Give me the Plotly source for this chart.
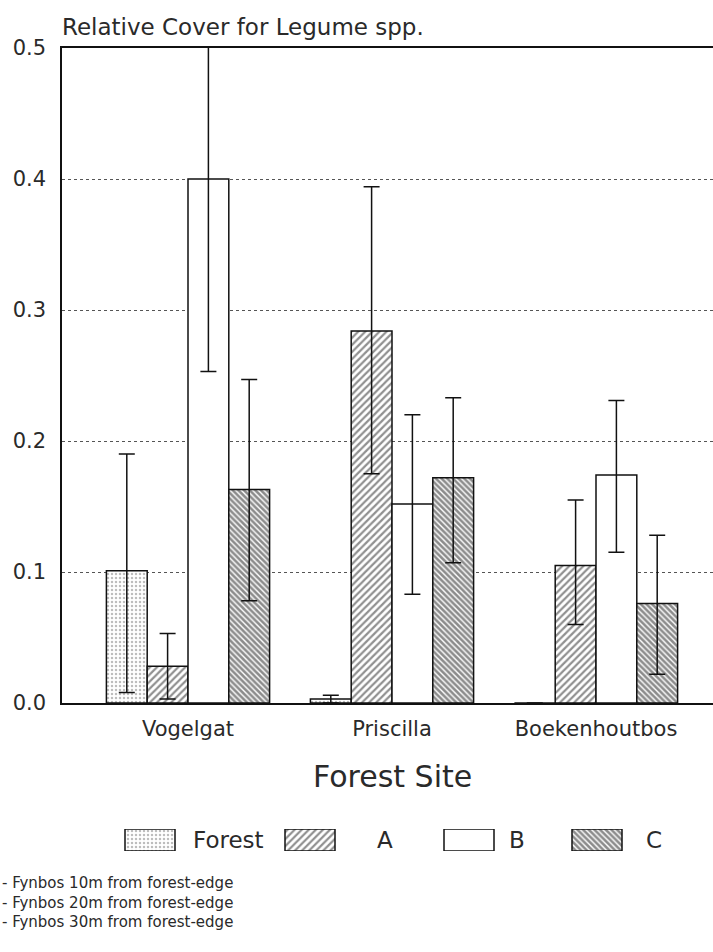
import plotly.graph_objects as go

# Relative cover of legume species at three forest sites
sites = ["Vogelgat", "Priscilla", "Boekenhoutbos"]
groups = ["Forest", "A", "B", "C"]

cover_forest = [0.101, 0.003, 0.0]
cover_a = [0.028, 0.284, 0.105]
cover_b = [0.400, 0.152, 0.174]
cover_c = [0.163, 0.172, 0.076]

err_plus_forest = [0.089, 0.003, 0.0]
err_minus_forest = [0.093, 0.003, 0.0]
err_plus_a = [0.025, 0.110, 0.050]
err_minus_a = [0.025, 0.109, 0.045]
err_plus_b = [0.148, 0.068, 0.057]
err_minus_b = [0.147, 0.069, 0.059]
err_plus_c = [0.084, 0.061, 0.052]
err_minus_c = [0.085, 0.065, 0.054]

footnotes = [
    "- Fynbos 10m from forest-edge",
    "- Fynbos 20m from forest-edge",
    "- Fynbos 30m from forest-edge",
]

FONT = "DejaVu Sans"
INK = "#2a2a2a"

styles = {
    "Forest": dict(shape=".", size=4, solidity=0.3, fgcolor="#7a7a7a"),
    "A": dict(shape="/", size=5, solidity=0.45, fgcolor="#222222"),
    "B": dict(shape="", size=5, solidity=0.3, fgcolor="#111111"),
    "C": dict(shape="\\", size=4, solidity=0.65, fgcolor="#1a1a1a"),
}

series = [
    ("Forest", cover_forest, err_plus_forest, err_minus_forest),
    ("A", cover_a, err_plus_a, err_minus_a),
    ("B", cover_b, err_plus_b, err_minus_b),
    ("C", cover_c, err_plus_c, err_minus_c),
]

fig = go.Figure()
for name, vals, ep, em in series:
    st = styles[name]
    fig.add_trace(go.Bar(
        x=sites, y=vals, name=name, showlegend=False,
        marker=dict(
            color="white",
            line=dict(color="#111111", width=1.5),
            pattern=dict(shape=st["shape"], size=st["size"],
                         solidity=st["solidity"], fgcolor=st["fgcolor"],
                         bgcolor="white", fillmode="overlay"),
        ),
        error_y=dict(type="data", symmetric=False, array=ep, arrayminus=em,
                     color="#111111", thickness=1.5, width=8),
        xaxis="x", yaxis="y",
    ))

# Key swatches drawn on a small helper axis below the chart
key_pos = [150, 310, 469, 597]
key_label_pos = [228, 385, 517, 654]
fig.add_trace(go.Bar(
    x=key_pos, y=[1] * len(groups), width=[50] * len(groups),
    showlegend=False, hoverinfo="skip",
    marker=dict(
        color="white",
        line=dict(color="#111111", width=1.5),
        pattern=dict(shape=[styles[g]["shape"] for g in groups],
                     size=[styles[g]["size"] for g in groups],
                     solidity=[styles[g]["solidity"] for g in groups],
                     fgcolor=[styles[g]["fgcolor"] for g in groups],
                     bgcolor="white", fillmode="overlay"),
    ),
    xaxis="x2", yaxis="y2",
))

W, H = 713, 952
ml, mt, mb = 62, 48, 92
plot_h = H - mt - mb
plot_w = W - ml


def py(pix):
    return (H - mb - pix) / plot_h


def px(pix):
    return (pix - ml) / plot_w


annotations = [
    dict(text="Relative Cover for Legume spp.", x=px(60), y=py(27),
         xref="paper", yref="paper", xanchor="left", yanchor="middle",
         showarrow=False, font=dict(family=FONT, size=23, color=INK)),
    dict(text="Forest Site", x=px(393), y=py(776), xref="paper", yref="paper",
         xanchor="center", yanchor="middle", showarrow=False,
         font=dict(family=FONT, size=30, color=INK)),
    dict(text="<br>".join(footnotes), x=px(0), y=py(902),
         xref="paper", yref="paper", xanchor="left", yanchor="middle",
         align="left", showarrow=False,
         font=dict(family=FONT, size=15, color=INK)),
]
for g, lx in zip(groups, key_label_pos):
    annotations.append(dict(text=g, x=lx, y=0.5, xref="x2", yref="y2",
                            xanchor="center", yanchor="middle", showarrow=False,
                            font=dict(family=FONT, size=23, color=INK)))

fig.update_layout(
    width=W, height=H,
    margin=dict(l=ml, r=0, t=mt, b=mb),
    paper_bgcolor="white", plot_bgcolor="white",
    barmode="group", bargap=0.2, bargroupgap=0,
    annotations=annotations,
    xaxis=dict(range=[-(188 - ml) / 204, (W - 188) / 204],
               showline=True, linecolor="#111111", linewidth=1.5, mirror=True,
               ticks="outside", ticklen=6, tickcolor="rgba(0,0,0,0)",
               showgrid=False, zeroline=False, anchor="y",
               tickfont=dict(family=FONT, size=21, color=INK)),
    yaxis=dict(range=[0, 0.5], domain=[py(703), 1], dtick=0.1,
               tickformat=".1f", showline=True, linecolor="#111111",
               linewidth=1.5, ticks="outside", ticklen=10,
               tickcolor="rgba(0,0,0,0)", showgrid=True, gridcolor="#555555",
               griddash="dot", gridwidth=1, zeroline=False, anchor="x",
               tickfont=dict(family=FONT, size=21, color=INK)),
    xaxis2=dict(range=[ml, W], domain=[0, 1], anchor="y2", visible=False),
    yaxis2=dict(range=[0, 1], domain=[py(851), py(829)], anchor="x2",
                visible=False),
)

fig.write_html("out.html")
